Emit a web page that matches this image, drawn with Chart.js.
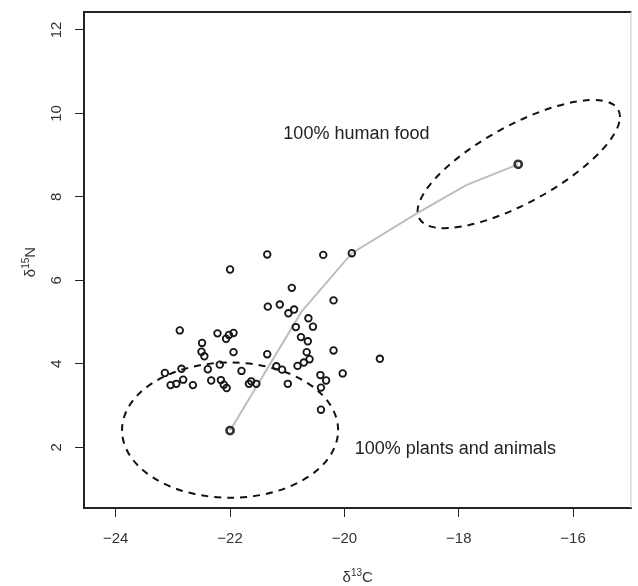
<!DOCTYPE html>
<html>
<head>
<meta charset="utf-8">
<script src="https://cdn.jsdelivr.net/npm/chart.js@4.4.1/dist/chart.umd.min.js"></script>
<style>
  html, body { margin: 0; padding: 0; background: #fff; }
  canvas { display: block; }
</style>
</head>
<body>
<canvas id="isoChart" width="638" height="586"></canvas>
<script>
// consumer samples, d13C (x) and d15N (y)
const sampleC = [-22.88, -23.14, -23.04, -22.94, -22.85, -22.82, -22.65, -22.49, -22.50, -22.45,
                 -22.39, -22.33, -22.22, -22.18, -22.16, -22.11, -22.06, -22.07, -22.02, -21.94,
                 -21.94, -21.80, -21.67, -21.63, -21.54, -21.35, -21.34, -21.13, -20.98, -20.88,
                 -21.19, -21.09, -20.99, -20.85, -20.76, -20.64, -20.63, -20.55, -20.66, -20.61,
                 -20.71, -20.82, -22.00, -21.35, -20.37, -19.87, -20.92, -20.19, -20.19, -20.03,
                 -20.42, -20.32, -20.41, -20.41, -19.38];
const sampleN = [4.80, 3.78, 3.49, 3.52, 3.88, 3.62, 3.49, 4.50, 4.29, 4.18,
                 3.87, 3.60, 4.73, 3.98, 3.61, 3.50, 3.42, 4.60, 4.69, 4.74,
                 4.28, 3.83, 3.52, 3.58, 3.52, 4.23, 5.37, 5.42, 5.21, 5.30,
                 3.94, 3.86, 3.52, 4.88, 4.64, 4.54, 5.09, 4.89, 4.28, 4.11,
                 4.03, 3.95, 6.26, 6.62, 6.61, 6.65, 5.82, 5.52, 4.32, 3.77,
                 3.73, 3.60, 3.43, 2.90, 4.12];

// end members: plants/animals and human food
const sourceC = [-22.00, -16.96];
const sourceN = [2.40, 8.78];

// mixing curve between the two end members
const mixC = [-22.00, -20.75, -19.87, -18.74, -17.87, -16.96];
const mixN = [2.40, 5.25, 6.65, 7.60, 8.28, 8.78];

const xTicks = [-24, -22, -20, -18, -16];
const yTicks = [2, 4, 6, 8, 10, 12];

// ellipses: centre + cos term + sin term (data units)
const plantEllipse = { centre: [-22.00, 2.41], cosTerm: [1.89, 0], sinTerm: [0, 1.62] };
const foodEllipse = { centre: [-16.95, 8.785], cosTerm: [1.77, 1.13], sinTerm: [0, 1.04] };

const noteText = ['100% human food', '100% plants and animals'];
const noteC = [-19.79, -18.06];
const noteN = [9.38, 1.85];

const FONT = '"Liberation Sans", Arial, Helvetica, sans-serif';

function fmtTick(v) {
    return v < 0 ? '\u2212' + Math.abs(v) : String(v);
}

// draws "δ" + superscript + letter centred at 0,0 (baseline)
function drawIsoLabel(ctx, sup, letter) {
    const big = '15px ' + FONT, small = '10px ' + FONT;
    ctx.font = big;
    const w1 = ctx.measureText('\u03b4').width;
    const w3 = ctx.measureText(letter).width;
    ctx.font = small;
    const w2 = ctx.measureText(sup).width;
    let x0 = -(w1 + w2 + w3) / 2;
    ctx.textAlign = 'left';
    ctx.textBaseline = 'alphabetic';
    ctx.font = big;
    ctx.fillText('\u03b4', x0, 0);
    ctx.font = small;
    ctx.fillText(sup, x0 + w1, -6);
    ctx.font = big;
    ctx.fillText(letter, x0 + w1 + w2, 0);
}

const overlay = {
    id: 'overlay',
    beforeDatasetsDraw(chart) {
        const { ctx, scales: { x, y } } = chart;
        const sx = x.getPixelForValue(1) - x.getPixelForValue(0);
        const sy = y.getPixelForValue(1) - y.getPixelForValue(0);
        ctx.save();
        ctx.strokeStyle = '#111';
        ctx.lineWidth = 2;
        ctx.setLineDash([7, 6]);
        [plantEllipse, foodEllipse].forEach(e => {
            ctx.save();
            ctx.transform(sx * e.cosTerm[0], sy * e.cosTerm[1], sx * e.sinTerm[0], sy * e.sinTerm[1],
                x.getPixelForValue(e.centre[0]), y.getPixelForValue(e.centre[1]));
            ctx.beginPath();
            ctx.arc(0, 0, 1, 0, Math.PI * 2);
            ctx.restore();
            ctx.stroke();
        });
        ctx.setLineDash([]);
        ctx.fillStyle = '#222';
        ctx.font = '18px ' + FONT;
        ctx.textAlign = 'center';
        ctx.textBaseline = 'alphabetic';
        noteText.forEach((t, i) => {
            ctx.fillText(t, x.getPixelForValue(noteC[i]), y.getPixelForValue(noteN[i]));
        });
        ctx.restore();
    },
    afterDraw(chart) {
        const { ctx, chartArea: a, scales: { x, y } } = chart;
        ctx.save();
        // rest of the box
        ctx.strokeStyle = '#222';
        ctx.lineWidth = 2;
        ctx.beginPath();
        ctx.moveTo(a.left - 1, a.top);
        ctx.lineTo(a.right, a.top);
        ctx.stroke();
        ctx.strokeStyle = '#c8c8c8';
        ctx.lineWidth = 1;
        ctx.beginPath();
        ctx.moveTo(a.right - 0.5, a.top);
        ctx.lineTo(a.right - 0.5, a.bottom);
        ctx.stroke();

        ctx.fillStyle = '#333';
        ctx.font = '15px ' + FONT;
        ctx.textAlign = 'center';
        ctx.textBaseline = 'alphabetic';
        xTicks.forEach(v => ctx.fillText(fmtTick(v), x.getPixelForValue(v), 543));
        yTicks.forEach(v => {
            ctx.save();
            ctx.translate(61, y.getPixelForValue(v));
            ctx.rotate(-Math.PI / 2);
            ctx.fillText(fmtTick(v), 0, 0);
            ctx.restore();
        });

        ctx.save();
        ctx.translate((a.left + a.right) / 2, 582);
        drawIsoLabel(ctx, '13', 'C');
        ctx.restore();
        ctx.save();
        ctx.translate(35, (a.top + a.bottom) / 2 + 2);
        ctx.rotate(-Math.PI / 2);
        drawIsoLabel(ctx, '15', 'N');
        ctx.restore();
        ctx.restore();
    }
};

const axisGrid = { drawOnChartArea: false, drawTicks: true, tickLength: 9, color: '#222', lineWidth: 1 };

new Chart(document.getElementById('isoChart'), {
    type: 'scatter',
    data: {
        datasets: [
            {
                label: 'mixing line',
                data: mixC.map((c, i) => ({ x: c, y: mixN[i] })),
                showLine: true,
                borderColor: '#bdbdbd',
                borderWidth: 2,
                pointRadius: 0,
                order: 3
            },
            {
                label: 'samples',
                data: sampleC.map((c, i) => ({ x: c, y: sampleN[i] })),
                pointRadius: 3.3,
                pointBorderWidth: 1.8,
                borderColor: '#151515',
                backgroundColor: 'rgba(0,0,0,0)',
                order: 2
            },
            {
                label: 'sources',
                data: sourceC.map((c, i) => ({ x: c, y: sourceN[i] })),
                pointRadius: 3.6,
                pointBorderWidth: 2.6,
                borderColor: '#333',
                backgroundColor: 'rgba(0,0,0,0)',
                order: 1
            }
        ]
    },
    options: {
        responsive: false,
        animation: false,
        events: [],
        layout: { padding: { top: 12, right: 2, left: 0, bottom: 0 } },
        plugins: { legend: { display: false }, tooltip: { enabled: false } },
        scales: {
            x: {
                type: 'linear',
                min: -24.555,
                max: -14.98,
                afterBuildTicks: s => { s.ticks = xTicks.map(v => ({ value: v })); },
                afterFit: s => { s.height = 78; },
                ticks: { display: false },
                grid: axisGrid,
                border: { display: true, color: '#222', width: 2 }
            },
            y: {
                type: 'linear',
                min: 0.545,
                max: 12.43,
                afterBuildTicks: s => { s.ticks = yTicks.map(v => ({ value: v })); },
                afterFit: s => { s.width = 84; },
                ticks: { display: false },
                grid: axisGrid,
                border: { display: true, color: '#222', width: 2 }
            }
        }
    },
    plugins: [overlay]
});
</script>
</body>
</html>
